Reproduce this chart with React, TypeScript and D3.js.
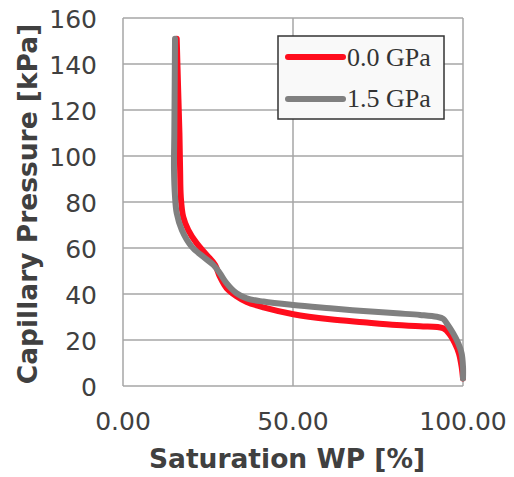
import React from "react";
import * as d3 from "d3";

const xTicks = [0, 50, 100];
const yTicks = [0, 20, 40, 60, 80, 100, 120, 140, 160];

const seriesNames = ["0.0 GPa", "1.5 GPa"];
const seriesColors = ["#ff0d1d", "#808080"];

const satRed = [15.8, 16.2, 16.6, 16.8, 17.0, 17.7, 19.2, 21.7, 24.6, 27.1, 28.5, 30.5, 33.4, 36.4, 41.3, 50.1, 60.9, 70.7, 80.5, 87.4, 94.2, 96.2, 97.6, 98.8, 99.6, 100];
const presRed = [151, 130, 110, 94, 82.3, 73.6, 67.8, 62.0, 57.0, 52.6, 47.5, 42.5, 39.0, 36.5, 34.2, 31.2, 29.0, 27.7, 26.5, 26.0, 25.1, 22.2, 18.6, 14.2, 8.4, 3.3];

const satGray = [15.3, 15.2, 15.1, 15.0, 15.3, 15.8, 17.3, 20.2, 23.6, 26.6, 28.5, 30.5, 33.4, 36.4, 41.3, 50.1, 60.9, 70.7, 80.5, 87.4, 92.3, 94.2, 95.2, 97.1, 98.6, 99.6, 100, 100];
const presGray = [151, 130, 110, 94, 82.3, 75.1, 67.8, 60.6, 56.2, 52.6, 49.0, 44.6, 40.3, 38.1, 36.7, 35.2, 33.8, 32.6, 31.6, 30.9, 30.1, 29.2, 27.3, 22.9, 18.6, 14.2, 8.4, 3.3];

const W = 514;
const H = 477;
const L = 123, R = 463, T = 18, B = 386;

export default function App() {
  const x = d3.scaleLinear().domain([0, 100]).range([L, R]);
  const y = d3.scaleLinear().domain([0, 160]).range([B, T]);
  const line = d3
    .line<[number, number]>()
    .x((d) => x(d[0]))
    .y((d) => y(d[1]))
    .curve(d3.curveCatmullRom.alpha(0.5));

  const series = [
    satRed.map((s, i) => [s, presRed[i]] as [number, number]),
    satGray.map((s, i) => [s, presGray[i]] as [number, number]),
  ];

  const grid = "#a6a6a6";
  const txt = "#404040";
  const font = "'DejaVu Sans', Verdana, sans-serif";

  return (
    <svg width={W} height={H} style={{ position: "absolute", left: 0, top: 0, background: "#fff" }}>
      {yTicks.map((t) => (
        <line key={"gy" + t} x1={L} x2={R} y1={y(t)} y2={y(t)} stroke={grid} strokeWidth={1.5} />
      ))}
      {xTicks.map((t) => (
        <line key={"gx" + t} x1={x(t)} x2={x(t)} y1={T} y2={B} stroke={grid} strokeWidth={1.5} />
      ))}
      {yTicks.map((t) => (
        <text key={"ty" + t} x={97} y={y(t) + 10} textAnchor="end" fontFamily={font} fontSize={25} fill={txt}>
          {t}
        </text>
      ))}
      {xTicks.map((t) => (
        <text key={"tx" + t} x={x(t)} y={430} textAnchor="middle" fontFamily={font} fontSize={25} fill={txt}>
          {t.toFixed(2)}
        </text>
      ))}
      <text x={287} y={468} textAnchor="middle" fontFamily={font} fontSize={26.5} fontWeight="bold" fill={txt}>
        Saturation WP [%]
      </text>
      <text
        transform={`translate(37, ${(T + B) / 2 + 2}) rotate(-90)`}
        textAnchor="middle"
        fontFamily={font}
        fontSize={26.5}
        fontWeight="bold"
        fill={txt}
      >
        Capillary Pressure [kPa]
      </text>
      {series.map((d, i) => (
        <path
          key={"s" + i}
          d={line(d) || ""}
          fill="none"
          stroke={seriesColors[i]}
          strokeWidth={6}
          strokeLinecap="round"
          strokeLinejoin="round"
        />
      ))}
      <rect x={278} y={36} width={166} height={83} fill="#f9f9f9" stroke="#333" strokeWidth={1.5} />
      {seriesNames.map((n, i) => (
        <g key={"lg" + i}>
          <line x1={288} x2={343} y1={57 + i * 42} y2={57 + i * 42} stroke={seriesColors[i]} strokeWidth={6} strokeLinecap="round" />
          <text x={347} y={66 + i * 41} fontFamily="'Liberation Serif', 'Times New Roman', serif" fontSize={26} fill="#333">
            {n}
          </text>
        </g>
      ))}
    </svg>
  );
}
